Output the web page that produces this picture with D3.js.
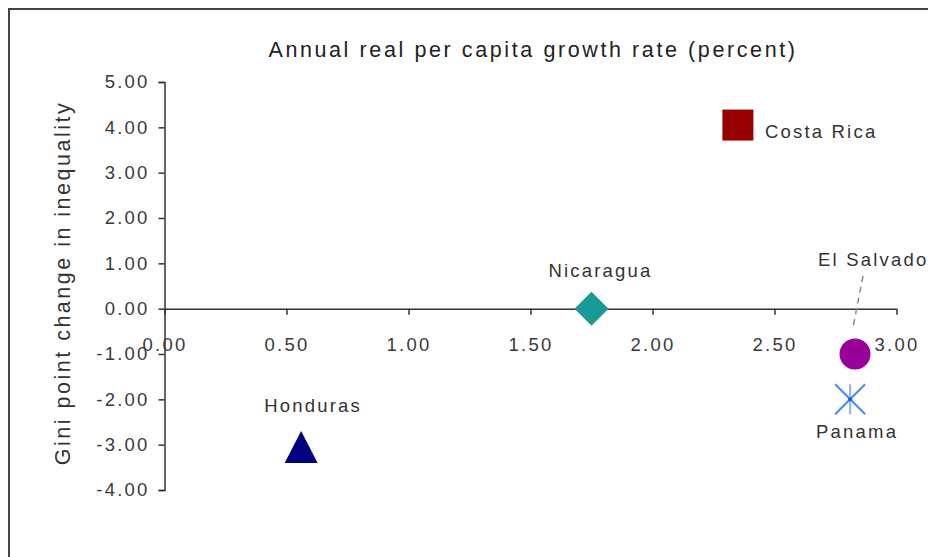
<!DOCTYPE html>
<html>
<head>
<meta charset="utf-8">
<script src="https://cdn.jsdelivr.net/npm/d3@7"></script>
<style>
  html, body { margin: 0; padding: 0; background: #fff; }
  svg { display: block; font-family: "Liberation Sans", Arial, sans-serif; }
</style>
</head>
<body>
<svg id="chart" width="928" height="557"></svg>
<script>
// Countries plotted: per capita growth vs. change in Gini points
const countries = ["Costa Rica", "Nicaragua", "El Salvador", "Panama", "Honduras"];
const growth = [2.35, 1.75, 2.83, 2.81, 0.56];
const giniChange = [4.05, 0.0, -1.0, -2.0, -3.05];
const markerShapes = ["square", "diamond", "circle", "star", "triangle"];
const markerColors = ["#990000", "#199a96", "#990099", "#4d8cf5", "#000080"];

const xTicks = [0.0, 0.5, 1.0, 1.5, 2.0, 2.5, 3.0];
const yTicks = [5, 4, 3, 2, 1, 0, -1, -2, -3, -4];

const svg = d3.select("#chart");
const W = 928, H = 557;

// chart-area frame
svg.append("rect")
  .attr("x", 9).attr("y", 9)
  .attr("width", W + 10).attr("height", H + 10)
  .attr("fill", "none").attr("stroke", "#444").attr("stroke-width", 2);

const x = d3.scaleLinear().domain([0, 3]).range([164.5, 896.5]);
const y = d3.scaleLinear().domain([-4, 5]).range([490, 82]);

// plain hyphen for negatives, two decimals
const fmt = v => d3.format(".2f")(v).replace("\u2212", "-");
const tickFont = "18.5px";
const tickSpacing = "2.2px";

// Y axis at x = 0
const yAxis = svg.append("g")
  .attr("transform", `translate(${x(0)},0)`)
  .call(d3.axisLeft(y).tickValues(yTicks).tickFormat(fmt).tickSize(6).tickPadding(9));
yAxis.select(".domain").attr("stroke", "#333").attr("stroke-width", 1.5);
yAxis.selectAll(".tick line").attr("stroke", "#333").attr("stroke-width", 1.5);
yAxis.selectAll(".tick text")
  .attr("fill", "#3a3a3a")
  .style("font-size", tickFont)
  .style("letter-spacing", tickSpacing)
  .style("font-family", "Liberation Sans, Arial, sans-serif");

// X axis crossing at y = 0
const xAxis = svg.append("g")
  .attr("transform", `translate(0,${y(0)})`)
  .call(d3.axisBottom(x).tickValues(xTicks).tickFormat(fmt).tickSize(6).tickPadding(23).tickSizeOuter(0));
xAxis.select(".domain").attr("stroke", "#333").attr("stroke-width", 1.5);
xAxis.selectAll(".tick line").attr("stroke", "#333").attr("stroke-width", 1.5);
xAxis.selectAll(".tick text")
  .attr("fill", "#3a3a3a")
  .style("font-size", tickFont)
  .style("letter-spacing", tickSpacing)
  .style("font-family", "Liberation Sans, Arial, sans-serif");

// Title
svg.append("text")
  .attr("x", 533).attr("y", 57)
  .attr("text-anchor", "middle")
  .attr("fill", "#222")
  .style("font-size", "21.5px")
  .style("letter-spacing", "2.6px")
  .text("Annual real per capita growth rate (percent)");

// Y axis title
svg.append("text")
  .attr("transform", `translate(70,${(100 + 466) / 2}) rotate(-90)`)
  .attr("text-anchor", "middle")
  .attr("fill", "#333")
  .style("font-size", "21.5px")
  .style("letter-spacing", "2.5px")
  .text("Gini point change in inequality");

// Markers
const data = countries.map((c, i) => ({
  name: c, gx: growth[i], gy: giniChange[i], shape: markerShapes[i], color: markerColors[i]
}));

const marks = svg.append("g");
data.forEach(d => {
  const cx = x(d.gx), cy = y(d.gy);
  if (d.shape === "square") {
    marks.append("rect").attr("x", cx - 15.5).attr("y", cy - 15.5)
      .attr("width", 31).attr("height", 31).attr("fill", d.color);
  } else if (d.shape === "diamond") {
    marks.append("path")
      .attr("d", `M${cx},${cy - 17}L${cx + 17},${cy}L${cx},${cy + 17}L${cx - 17},${cy}Z`)
      .attr("fill", d.color);
  } else if (d.shape === "circle") {
    marks.append("circle").attr("cx", cx).attr("cy", cy).attr("r", 15.5).attr("fill", d.color);
  } else if (d.shape === "triangle") {
    marks.append("path")
      .attr("d", `M${cx},${cy - 16}L${cx + 16.5},${cy + 16}L${cx - 16.5},${cy + 16}Z`)
      .attr("fill", d.color);
  } else if (d.shape === "star") {
    const g = marks.append("g").attr("stroke", d.color).attr("stroke-width", 2.2).attr("fill", "none");
    g.append("line").attr("x1", cx - 15).attr("y1", cy - 15).attr("x2", cx + 15).attr("y2", cy + 15);
    g.append("line").attr("x1", cx - 15).attr("y1", cy + 15).attr("x2", cx + 15).attr("y2", cy - 15);
    g.append("line").attr("x1", cx).attr("y1", cy - 15).attr("x2", cx).attr("y2", cy + 15)
      .attr("stroke", "#8fb6f7");
    marks.append("circle").attr("cx", cx).attr("cy", cy).attr("r", 2).attr("fill", "#1a5fd6");
  }
});

// Data labels
const labelOffsets = {
  "Costa Rica": { dx: 27, dy: 8, anchor: "start" },
  "Nicaragua": { dx: 9, dy: -37, anchor: "middle" },
  "El Salvador": { dx: -37, dy: -93, anchor: "start" },
  "Panama": { dx: 7, dy: 34, anchor: "middle" },
  "Honduras": { dx: 12, dy: -40, anchor: "middle" }
};

// leader line for El Salvador
const es = data.find(d => d.name === "El Salvador");
svg.append("line")
  .attr("x1", x(es.gx) + 8).attr("y1", y(es.gy) - 78)
  .attr("x2", x(es.gx) - 2).attr("y2", y(es.gy) - 27)
  .attr("stroke", "#888").attr("stroke-width", 1.5)
  .attr("stroke-dasharray", "6,5");

svg.append("g").selectAll("text")
  .data(data)
  .join("text")
  .attr("x", d => x(d.gx) + labelOffsets[d.name].dx)
  .attr("y", d => y(d.gy) + labelOffsets[d.name].dy)
  .attr("text-anchor", d => labelOffsets[d.name].anchor)
  .attr("dominant-baseline", "middle")
  .attr("fill", "#333")
  .style("font-size", "18.5px")
  .style("letter-spacing", "2.2px")
  .text(d => d.name);
</script>
</body>
</html>
